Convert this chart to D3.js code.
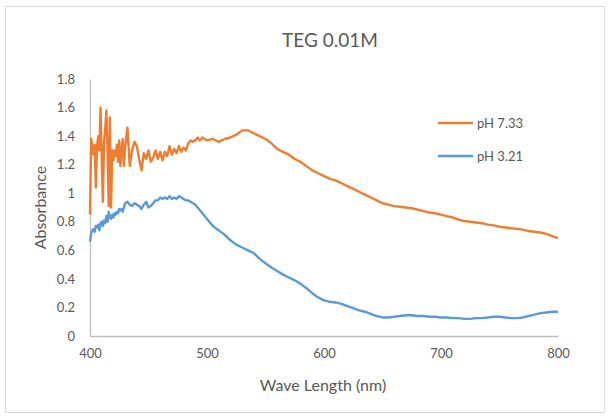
<!DOCTYPE html>
<html>
<head>
<meta charset="utf-8">
<script src="https://cdn.jsdelivr.net/npm/d3@7"></script>
<style>
  body { margin: 0; background: #fff; }
  text { font-family: Lato, "Open Sans", sans-serif; fill: #595959; }
</style>
</head>
<body>
<div id="chart"></div>
<script>
// sampling of the wavelength axis (nm): 1 nm in the noisy start, 2 nm, then 5 nm
const wavelength = [].concat(d3.range(400, 431, 1), d3.range(432, 501, 2), d3.range(505, 801, 5));

const ph733 = [
    0.85, 1.38, 1.32, 1.27, 1.34, 1.04, 1.33, 1.40, 1.30, 1.60,
    1.25, 0.94, 1.36, 1.45, 1.58, 1.30, 0.91, 1.53, 0.90, 1.30,
    1.23, 1.30, 1.26, 1.34, 1.22, 1.37, 1.19, 1.30, 1.38, 1.19, 1.32,
    // 432..500
    1.46, 1.19, 1.30, 1.36, 1.33, 1.24, 1.16, 1.28, 1.24, 1.30,
    1.22, 1.25, 1.30, 1.24, 1.29, 1.23, 1.29, 1.26, 1.33, 1.27,
    1.31, 1.28, 1.33, 1.29, 1.32, 1.30, 1.35, 1.37, 1.36, 1.37,
    1.39, 1.37, 1.39, 1.38, 1.37,
    // 505..800
    1.38, 1.36, 1.38, 1.39, 1.41, 1.44, 1.44, 1.42, 1.40, 1.38,
    1.35, 1.31, 1.29, 1.27, 1.24, 1.22, 1.19, 1.16, 1.14, 1.12,
    1.10, 1.09, 1.07, 1.05, 1.03, 1.01, 0.99, 0.97, 0.95, 0.93,
    0.92, 0.91, 0.905, 0.90, 0.895, 0.885, 0.875, 0.865, 0.86, 0.85,
    0.84, 0.83, 0.815, 0.805, 0.80, 0.795, 0.79, 0.78, 0.775, 0.765,
    0.76, 0.755, 0.75, 0.745, 0.735, 0.73, 0.725, 0.715, 0.70, 0.685
];

const ph321 = [
    0.66, 0.72, 0.74, 0.75, 0.73, 0.77, 0.76, 0.78, 0.74, 0.79,
    0.80, 0.77, 0.81, 0.79, 0.84, 0.80, 0.87, 0.83, 0.82, 0.85,
    0.83, 0.86, 0.85, 0.87, 0.86, 0.89, 0.88, 0.89, 0.87, 0.90, 0.93,
    // 432..500
    0.94, 0.92, 0.91, 0.93, 0.92, 0.91, 0.89, 0.92, 0.94, 0.90,
    0.91, 0.93, 0.95, 0.95, 0.97, 0.96, 0.97, 0.96, 0.98, 0.96,
    0.97, 0.96, 0.98, 0.97, 0.96, 0.95, 0.95, 0.94, 0.93, 0.92,
    0.90, 0.88, 0.86, 0.84, 0.82,
    // 505..800
    0.77, 0.74, 0.71, 0.67, 0.64, 0.62, 0.60, 0.58, 0.54, 0.51,
    0.48, 0.455, 0.43, 0.41, 0.39, 0.365, 0.335, 0.30, 0.27, 0.25,
    0.24, 0.235, 0.225, 0.21, 0.195, 0.18, 0.17, 0.155, 0.14, 0.13,
    0.13, 0.135, 0.14, 0.145, 0.145, 0.14, 0.14, 0.135, 0.135, 0.13,
    0.13, 0.125, 0.125, 0.12, 0.12, 0.125, 0.125, 0.13, 0.135, 0.135,
    0.13, 0.125, 0.125, 0.13, 0.14, 0.15, 0.16, 0.165, 0.17, 0.17
];

const seriesNames = ["pH 7.33", "pH 3.21"];
const seriesColors = ["#ED7D31", "#5B9BD5"];
const xTicks = [400, 500, 600, 700, 800];
const yTicks = [0, 0.2, 0.4, 0.6, 0.8, 1, 1.2, 1.4, 1.6, 1.8];

const width = 610, height = 419;
const margin = { left: 90, right: 52, top: 79, bottom: 83 };

const svg = d3.select("#chart").append("svg")
    .attr("width", width)
    .attr("height", height);

svg.append("rect")
    .attr("x", 5.5).attr("y", 6.5)
    .attr("width", 599).attr("height", 406)
    .attr("fill", "#fff")
    .attr("stroke", "#d9d9d9");

const x = d3.scaleLinear().domain([400, 800]).range([margin.left, width - margin.right]);
const y = d3.scaleLinear().domain([0, 1.8]).range([height - margin.bottom, margin.top]);

const xAxis = svg.append("g")
    .attr("transform", `translate(0,${y(0)})`)
    .call(d3.axisBottom(x).tickValues(xTicks).tickSize(0).tickPadding(13).tickFormat(d3.format("d")));
xAxis.select(".domain").attr("stroke", "#bfbfbf").attr("stroke-width", 1.3);
xAxis.selectAll("text").style("font-size", "13px").attr("fill", "#595959");

const yAxis = svg.append("g")
    .attr("transform", `translate(${x(400)},0)`)
    .call(d3.axisLeft(y).tickValues(yTicks).tickSize(0).tickPadding(15).tickFormat(d => d3.format("")(+d.toFixed(1))));
yAxis.select(".domain").attr("stroke", "#bfbfbf").attr("stroke-width", 1.3);
yAxis.selectAll("text").style("font-size", "13px").attr("fill", "#595959");

const line = d3.line()
    .x((d, i) => x(wavelength[i]))
    .y(d => y(d));

[ph733, ph321].forEach((vals, k) => {
    svg.append("path")
        .datum(vals)
        .attr("fill", "none")
        .attr("stroke", seriesColors[k])
        .attr("stroke-width", 2.4)
        .attr("stroke-linejoin", "round")
        .attr("d", line);
});

// title and axis titles
svg.append("text")
    .attr("x", 330).attr("y", 47)
    .attr("text-anchor", "middle")
    .style("font-size", "19px")
    .text("TEG 0.01M");

svg.append("text")
    .attr("x", 323).attr("y", 391)
    .attr("text-anchor", "middle")
    .style("font-size", "16px")
    .text("Wave Length (nm)");

svg.append("text")
    .attr("transform", `translate(46,${(y(0) + y(1.8)) / 2}) rotate(-90)`)
    .attr("text-anchor", "middle")
    .style("font-size", "16px")
    .text("Absorbance");

// legend
const legend = svg.append("g");
seriesNames.forEach((name, k) => {
    const ly = 123 + k * 33;
    legend.append("line")
        .attr("x1", 438).attr("x2", 473)
        .attr("y1", ly).attr("y2", ly)
        .attr("stroke", seriesColors[k])
        .attr("stroke-width", 2.4);
    legend.append("text")
        .attr("x", 477).attr("y", ly + 5)
        .style("font-size", "13px")
        .text(name);
});
</script>
</body>
</html>
